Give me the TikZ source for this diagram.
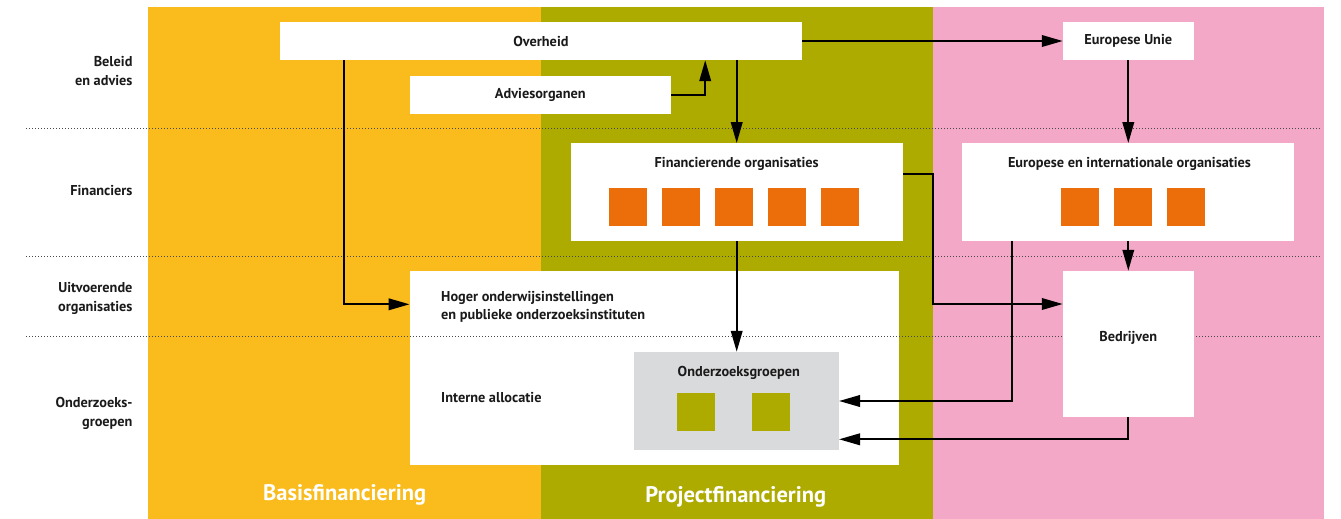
\documentclass[tikz,border=0pt]{standalone}
\usepackage{fontspec}
\setmainfont{PT Sans}
\usetikzlibrary{arrows.meta}
\definecolor{byellow}{HTML}{F9BC1C}
\definecolor{bolive}{HTML}{ADAA00}
\definecolor{bpink}{HTML}{F2A8C6}
\definecolor{sqorange}{HTML}{EC6E0B}
\definecolor{bgray}{HTML}{D9DADC}
\definecolor{txt}{HTML}{1A1A1A}
\begin{document}
\begin{tikzpicture}[x=1pt,y=-1pt,
  box/.style={fill=white, draw=none, inner sep=0pt, text=txt, font=\bfseries\fontsize{14.3}{18}\selectfont},
  lbl/.style={inner sep=0pt, text=txt, font=\bfseries\fontsize{14.3}{18}\selectfont},
  side/.style={inner sep=0pt, text=txt, anchor=east, align=right, font=\bfseries\fontsize{14.3}{19}\selectfont},
  band/.style={inner sep=0pt, text=white, font=\bfseries\fontsize{22.5}{26}\selectfont},
  sqo/.style={fill=sqorange, minimum width=38, minimum height=37.5, inner sep=0pt},
  sqg/.style={fill=bolive, minimum width=38, minimum height=37.5, inner sep=0pt},
  arr/.style={line width=2.1pt, line join=miter, -{Triangle[length=21pt,width=11.5pt]}},
  dots/.style={line width=0.8pt, color=txt!80, dash pattern=on 0.8pt off 2.2pt}
]
\useasboundingbox (0,0) rectangle (1341,519);
% bands
\fill[byellow] (148,7) rectangle (541,519);
\fill[bolive] (541,7) rectangle (933,519);
\fill[bpink] (933,7) rectangle (1324,519);
% Hoger box first (dotted line runs across it)
\node[box, minimum width=489.7, minimum height=193.7] (hog) at (654.6,367.8) {};
% dotted rows
\draw[dots] (26.3,128) -- (1321.7,128);
\draw[dots] (26.3,256) -- (1321.7,256);
\draw[dots] (26.3,336) -- (1321.7,336);
% boxes
\node[box, minimum width=522, minimum height=38] (ov) at (541,41) {Overheid};
\node[box, minimum width=261, minimum height=37.7] (adv) at (540.3,94.8) {Adviesorganen};
\node[box, minimum width=130.7, minimum height=38] (eu) at (1128.3,41) {Europese Unie};
\node[box, minimum width=331.8, minimum height=97.4] (fin) at (736.7,192) {};
\node[box, minimum width=331.7, minimum height=97.4] (ei) at (1127.8,192) {};
\node[box, minimum width=130.7, minimum height=145.7] (bed) at (1128.3,343.8) {};
\node[fill=bgray, inner sep=0pt, minimum width=204.8, minimum height=97.7] (grp) at (736.4,400.8) {};
% texts inside boxes
\node[lbl] (fint) at (736.7,164) {Financierende organisaties};
\node[lbl] (eit) at (1129.5,164) {Europese en internationale organisaties};
\node[lbl] (bedt) at (1128.3,338.3) {Bedrijven};
\node[lbl] (grpt) at (738.8,372.7) {Onderzoeksgroepen};
\node[lbl, anchor=west, align=left, font=\bfseries\fontsize{14.3}{18.7}\selectfont] (hogt) at (441,306.7) {Hoger onderwijsinstellingen\\en publieke onderzoeksinstituten};
\node[lbl, anchor=west] (intt) at (441,397.7) {Interne allocatie};
% squares
\node[sqo] (f1) at (627.6,207) {};
\node[sqo] (f2) at (680.6,207) {};
\node[sqo] (f3) at (733.6,207) {};
\node[sqo] (f4) at (786.6,207) {};
\node[sqo] (f5) at (839.6,207) {};
\node[sqo] (e1) at (1080,207) {};
\node[sqo] (e2) at (1132.7,207) {};
\node[sqo] (e3) at (1186,207) {};
\node[sqg] (g1) at (695.8,412) {};
\node[sqg] (g2) at (770.8,412) {};
% side labels
\node[side] (s1) at (132.7,71) {Beleid\\en advies};
\node[side] (s2) at (132.7,191) {Financiers};
\node[side] (s3) at (132.7,298) {Uitvoerende\\organisaties};
\node[side] (s4) at (132.7,413) {Onderzoeks-\\groepen};
% band labels
\node[band] (b1) at (344.7,495) {Basisfinanciering};
\node[band] (b2) at (735.8,496.7) {Projectfinanciering};
% connector bends
\coordinate (c1) at (344.3,304.3);
\coordinate (c2) at (705.2,94.8);
\coordinate (c3) at (932.8,174.3);
\coordinate (c4) at (932.8,304);
\coordinate (c5) at (1012.3,401);
\coordinate (c6) at (1128.3,439.3);
% connectors
\draw[arr] (ov.south -| c1) |- (hog.west |- c1);
\draw[arr] (adv.east) -| (ov.south -| c2);
\draw[arr] (ov.south -| fin.north) -- (fin.north);
\draw[arr] (ov.east) -- (eu.west);
\draw[arr] (eu.south) -- (eu.south |- ei.north);
\draw[arr] (bed.north |- ei.south) -- (bed.north);
\draw[arr] (fin.east |- c3) -- (c3) -- (c4) -- (bed.west |- c4);
\draw[arr] (fin.south) -- (fin.south |- grp.north);
\draw[arr] (ei.south -| c5) -- (c5) -- (grp.east |- c5);
\draw[arr] (bed.south) -- (c6) -- (grp.east |- c6);
\end{tikzpicture}
\end{document}
